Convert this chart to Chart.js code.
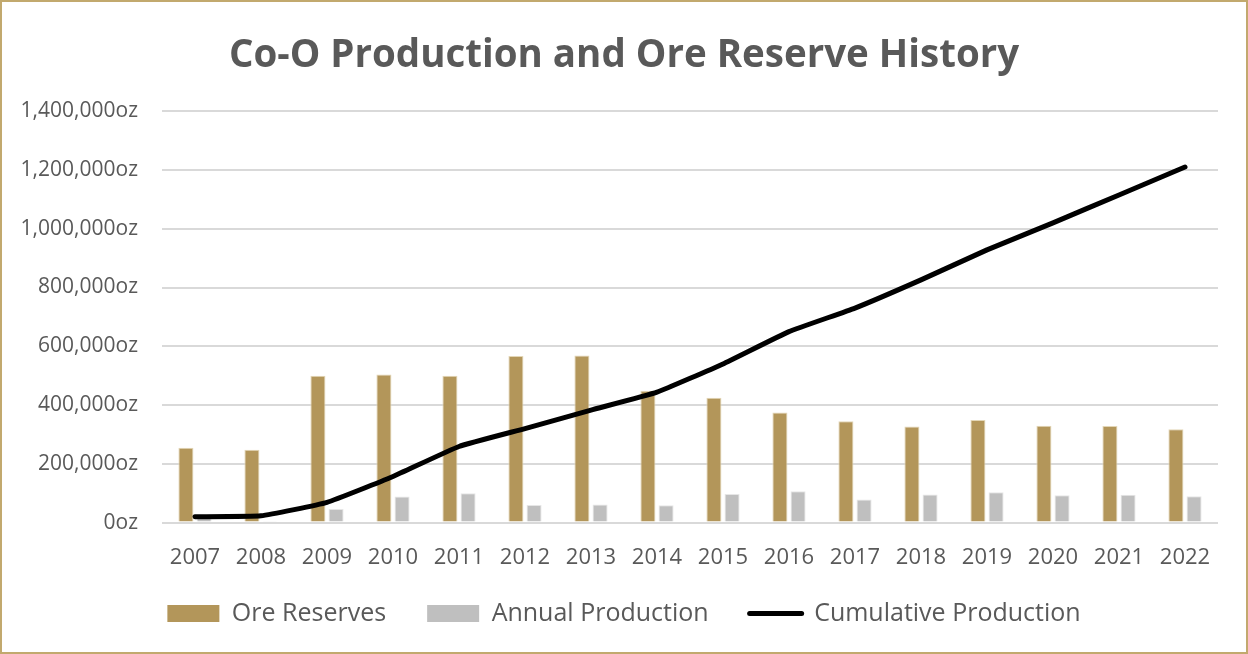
<!DOCTYPE html>
<html>
<head>
<meta charset="UTF-8">
<title>Co-O Production and Ore Reserve History</title>
<script src="https://cdn.jsdelivr.net/npm/chart.js@4.4.0/dist/chart.umd.min.js"></script>
<style>
    html, body { margin: 0; padding: 0; background: #fff; }
    .frame { width: 1244px; height: 650px; border: 2px solid #c2a96e; position: relative; }
    canvas { display: block; }
</style>
</head>
<body>
<div class="frame"><canvas id="chart" width="1244" height="650"></canvas></div>
<script>
// Chart data
const years = ['2007', '2008', '2009', '2010', '2011', '2012', '2013', '2014',
               '2015', '2016', '2017', '2018', '2019', '2020', '2021', '2022'];
const oreReserves = [255000, 248000, 500000, 504000, 500000, 567000, 569000, 449000,
                     425000, 375000, 345000, 327000, 349000, 330000, 329000, 318000];
const annualProduction = [20000, 3000, 46000, 89000, 100000, 60000, 62000, 59000,
                          97000, 107000, 79000, 96000, 103000, 93000, 95000, 90000];
const cumulativeProduction = [20000, 23000, 69000, 157000, 259000, 320000, 383000, 444000,
                              540000, 650000, 730000, 826000, 928000, 1020000, 1115000, 1210000];
const yTicks = [0, 200000, 400000, 600000, 800000, 1000000, 1200000, 1400000];

const textColor = '#595959';
const fontFamily = '"Open Sans", "Noto Sans", sans-serif';
const legendOrder = ['Ore Reserves', 'Annual Production', 'Cumulative Production'];

function initChart() {
    const ctx = document.getElementById('chart').getContext('2d');
    new Chart(ctx, {
        type: 'bar',
        data: {
            labels: years,
            datasets: [
                {
                    type: 'line',
                    label: 'Cumulative Production',
                    data: cumulativeProduction,
                    borderColor: '#000000',
                    backgroundColor: '#000000',
                    borderWidth: 5,
                    borderCapStyle: 'round',
                    borderJoinStyle: 'round',
                    pointRadius: 0,
                    tension: 0.12,
                    order: 0
                },
                {
                    label: 'Ore Reserves',
                    data: oreReserves,
                    backgroundColor: '#b3965a',
                    borderColor: '#e3d6b6',
                    borderWidth: 1,
                    categoryPercentage: 0.55,
                    barPercentage: 0.83,
                    order: 1
                },
                {
                    label: 'Annual Production',
                    data: annualProduction,
                    backgroundColor: '#bfbfbf',
                    borderColor: '#e6e6e6',
                    borderWidth: 1,
                    categoryPercentage: 0.55,
                    barPercentage: 0.83,
                    order: 1
                }
            ]
        },
        options: {
            responsive: false,
            animation: false,
            layout: { padding: { left: 0, right: 0, top: 0, bottom: 16 } },
            plugins: {
                title: {
                    display: true,
                    text: 'Co-O Production and Ore Reserve History',
                    color: textColor,
                    font: { family: fontFamily, size: 38.5, weight: 'bold' },
                    padding: { top: 31, bottom: 32 }
                },
                legend: {
                    position: 'bottom',
                    labels: {
                        color: textColor,
                        font: { family: fontFamily, size: 25 },
                        usePointStyle: true,
                        pointStyleWidth: 52,
                        boxHeight: 17,
                        padding: 16,
                        sort: (a, b) => legendOrder.indexOf(a.text.trim()) - legendOrder.indexOf(b.text.trim()),
                        generateLabels: (chart) => {
                            const items = Chart.defaults.plugins.legend.labels.generateLabels(chart);
                            return items.map(item => {
                                if (item.text === 'Cumulative Production') {
                                    return { ...item, pointStyle: 'line', lineWidth: 5, lineCap: 'round', strokeStyle: '#000000' };
                                }
                                // en spaces keep the wider gap between legend entries
                                return { ...item, text: item.text + '\u2002\u2002', pointStyle: 'rect', lineWidth: 0 };
                            });
                        }
                    }
                },
                tooltip: { enabled: false }
            },
            scales: {
                x: {
                    grid: { display: false },
                    border: { display: false },
                    ticks: {
                        color: textColor,
                        font: { family: fontFamily, size: 22 },
                        padding: 14
                    }
                },
                y: {
                    min: 0,
                    max: 1400000,
                    afterFit: (scale) => { scale.width = 160; },
                    afterBuildTicks: (scale) => { scale.ticks = yTicks.map(v => ({ value: v })); },
                    grid: { color: '#d9d9d9', lineWidth: 2, drawTicks: false },
                    border: { display: false },
                    ticks: {
                        color: textColor,
                        font: { family: fontFamily, size: 21 },
                        padding: 24,
                        callback: (v) => Number(v).toLocaleString('en-US') + 'oz'
                    }
                },
                // empty right axis only reserves the right margin, so the title stays centred on the page
                spacer: {
                    position: 'right',
                    grid: { display: false },
                    border: { display: false },
                    ticks: { display: false },
                    afterFit: (scale) => { scale.width = 28; }
                }
            }
        }
    });
}

document.addEventListener('DOMContentLoaded', initChart);
</script>
</body>
</html>
